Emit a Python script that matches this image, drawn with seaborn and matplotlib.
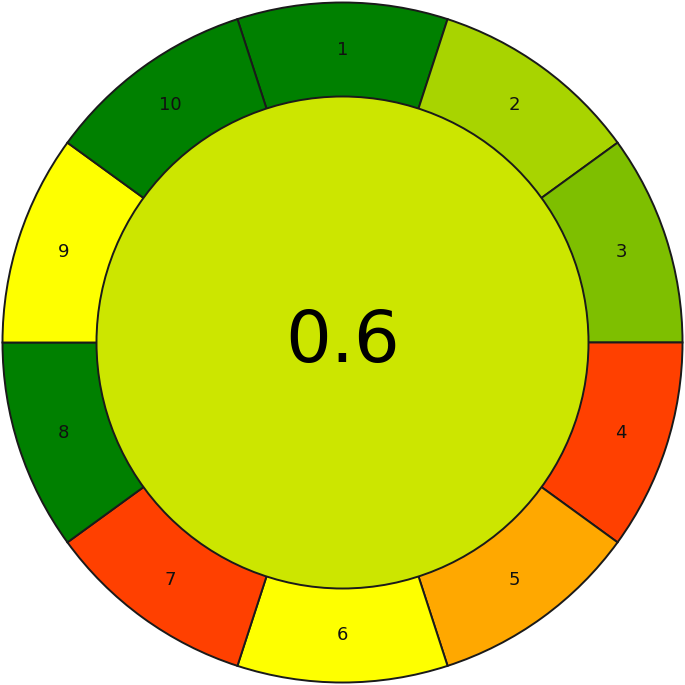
import matplotlib
matplotlib.use("Agg")
import matplotlib.pyplot as plt
from matplotlib.colors import LinearSegmentedColormap
import seaborn as sns

# AGREE-style pictogram: one score per principle, overall score in the middle
segment_labels = ["1", "2", "3", "4", "5", "6", "7", "8", "9", "10"]
segment_scores = [1.0, 0.67, 0.75, 0.125, 0.33, 0.5, 0.125, 1.0, 0.5, 1.0]
segment_weights = [1, 1, 1, 1, 1, 1, 1, 1, 1, 1]
overall_score = 0.6

sns.set_style("white")
plt.rcParams["font.family"] = ["DejaVu Sans"]

cmap = LinearSegmentedColormap.from_list("agree", ["red", "yellow", "green"])
seg_colors = [cmap(s) for s in segment_scores]

fig = plt.figure(figsize=(6.85, 6.85), dpi=100)
ax = fig.add_axes([0, 0, 1, 1])

inner_r = 246 / 340
wedges, texts = ax.pie(
    segment_weights,
    labels=segment_labels,
    colors=seg_colors,
    startangle=108,
    counterclock=False,
    radius=1.0,
    labeldistance=(1 + inner_r) / 2,
    wedgeprops=dict(width=1 - inner_r + 0.02, edgecolor="#1a1a1a", linewidth=1.4),
    textprops=dict(fontsize=13, color="#111111"),
)
for t in texts:
    t.set_ha("center")
    t.set_va("center")

center = plt.Circle((0, 0), inner_r, facecolor=cmap(overall_score),
                    edgecolor="#1a1a1a", linewidth=1.4, zorder=3)
ax.add_patch(center)
ax.text(0, 0, f"{overall_score}", ha="center", va="center",
        fontsize=52, color="black", zorder=4)

lim = 342.5 / 340
ax.set_xlim(-lim, lim)
ax.set_ylim(-lim, lim)
ax.set_aspect("equal")
ax.axis("off")

fig.savefig("out.png", dpi=100, facecolor="white")
